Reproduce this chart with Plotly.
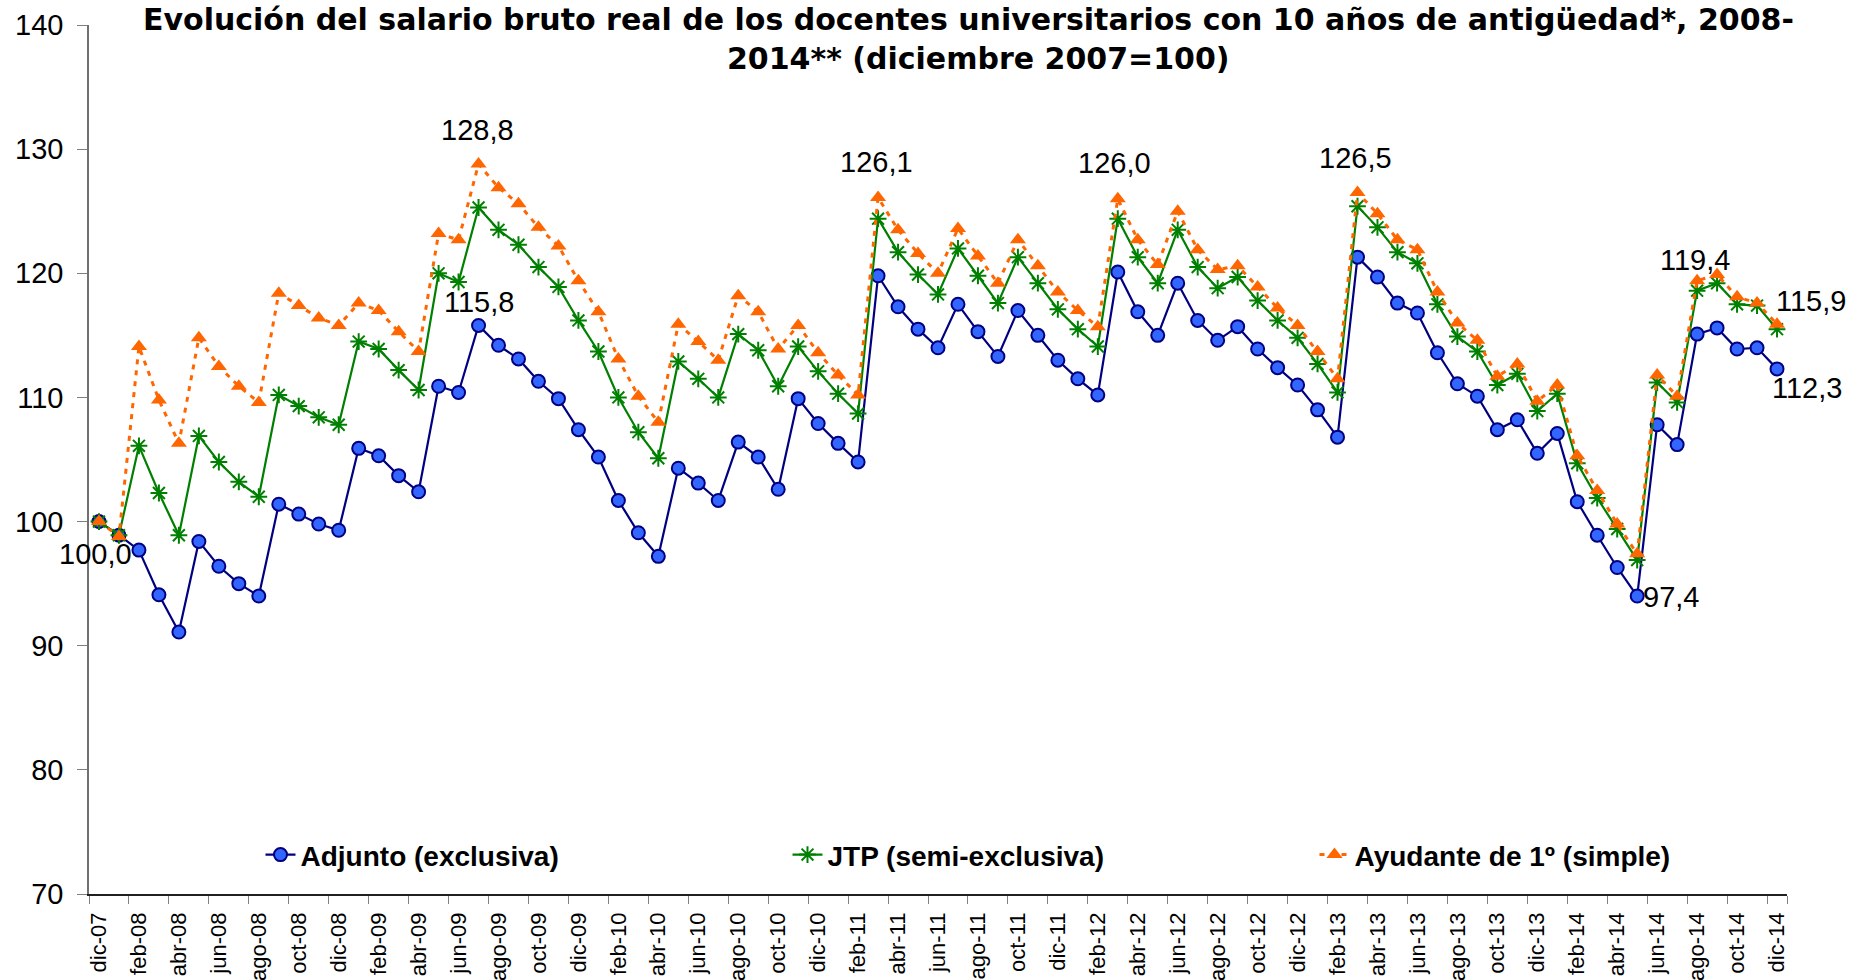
import plotly.graph_objects as go

# ---------------- data ----------------
month_abbr = ["ene", "feb", "mar", "abr", "may", "jun", "jul", "ago", "sep", "oct", "nov", "dic"]
years = list(range(8, 15))
categories = ["dic-07"] + [f"{m}-{y:02d}" for y in years for m in month_abbr]

adjunto = [100.0, 98.9, 97.7, 94.1, 91.1, 98.4, 96.4, 95.0, 94.0, 101.4,
           100.6, 99.8, 99.3, 105.9, 105.3, 103.7, 102.4, 110.9, 110.4, 115.8,
           114.2, 113.1, 111.3, 109.9, 107.4, 105.2, 101.7, 99.1, 97.2, 104.3,
           103.1, 101.7, 106.4, 105.2, 102.6, 109.9, 107.9, 106.3, 104.8, 119.8,
           117.3, 115.5, 114.0, 117.5, 115.3, 113.3, 117.0, 115.0, 113.0, 111.5,
           110.2, 120.1, 116.9, 115.0, 119.2, 116.2, 114.6, 115.7, 113.9, 112.4,
           111.0, 109.0, 106.8, 121.3, 119.7, 117.6, 116.8, 113.6, 111.1, 110.1,
           107.4, 108.2, 105.5, 107.1, 101.6, 98.9, 96.3, 94.0, 107.8, 106.2,
           115.1, 115.6, 113.9, 114.0, 112.3]

jtp = [100.0, 98.9, 106.1, 102.3, 98.9, 106.9, 104.8, 103.2, 102.0, 110.2,
       109.3, 108.4, 107.8, 114.5, 113.9, 112.2, 110.6, 120.0, 119.3, 125.3,
       123.5, 122.3, 120.5, 118.9, 116.2, 113.7, 110.0, 107.2, 105.1, 112.9,
       111.5, 110.0, 115.1, 113.8, 110.9, 114.1, 112.1, 110.3, 108.7, 124.4,
       121.7, 119.9, 118.3, 122.0, 119.8, 117.6, 121.3, 119.2, 117.1, 115.5,
       114.1, 124.4, 121.3, 119.2, 123.5, 120.5, 118.8, 119.7, 117.8, 116.2,
       114.8, 112.7, 110.4, 125.4, 123.7, 121.7, 120.8, 117.5, 114.9, 113.7,
       111.0, 111.9, 108.9, 110.3, 104.7, 101.9, 99.4, 96.9, 111.2, 109.6,
       118.6, 119.2, 117.5, 117.4, 115.5]

ayudante = [100.0, 98.8, 114.1, 109.8, 106.3, 114.8, 112.5, 110.9, 109.6, 118.4,
            117.4, 116.4, 115.8, 117.6, 117.0, 115.3, 113.7, 123.2, 122.7, 128.8,
            126.9, 125.6, 123.7, 122.2, 119.4, 116.9, 113.1, 110.1, 108.0, 115.9,
            114.5, 113.0, 118.2, 116.9, 113.9, 115.8, 113.6, 111.8, 110.2, 126.1,
            123.5, 121.6, 120.0, 123.6, 121.4, 119.2, 122.7, 120.6, 118.5, 117.0,
            115.7, 126.0, 122.7, 120.7, 125.0, 121.9, 120.3, 120.6, 118.9, 117.2,
            115.8, 113.7, 111.5, 126.5, 124.8, 122.7, 121.9, 118.5, 116.0, 114.6,
            111.7, 112.7, 109.7, 111.0, 105.3, 102.5, 99.8, 97.4, 111.8, 110.1,
            119.4, 119.9, 118.1, 117.6, 115.9]

series_names = ["Adjunto (exclusiva)", "JTP (semi-exclusiva)", "Ayudante de 1º (simple)"]
y_ticks = [70, 80, 90, 100, 110, 120, 130, 140]
title_line1 = "Evolución del salario bruto real de los docentes universitarios con 10 años de antigüedad*, 2008-"
title_line2 = "2014** (diciembre 2007=100)"


def fmt(v):
    return f"{v:.1f}".replace(".", ",")


# ---------------- figure ----------------
fig = go.Figure()

fig.add_trace(go.Scatter(
    x=categories, y=adjunto, name=series_names[0], mode="lines+markers",
    line=dict(color="#000080", width=2.2),
    marker=dict(symbol="circle", size=13, color="#3366FF",
                line=dict(color="#000080", width=2)),
))
fig.add_trace(go.Scatter(
    x=categories, y=jtp, name=series_names[1], mode="lines+markers",
    line=dict(color="#008000", width=2.2),
    marker=dict(symbol="asterisk-open", size=14, color="#008000",
                line=dict(color="#008000", width=2)),
))
fig.add_trace(go.Scatter(
    x=categories, y=ayudante, name=series_names[2], mode="lines+markers",
    line=dict(color="#FF6600", width=3, dash="5px,6px"),
    marker=dict(symbol="triangle-up", size=14, color="#FF6600",
                line=dict(color="#FF6600", width=0)),
))

lab_font = dict(family="Liberation Sans, Arial, sans-serif", size=29, color="black")

# data labels: (series, index, text-source, xanchor, xshift, yshift)
labels = [
    (adjunto, 0, adjunto[0], "center", -3, -32),
    (ayudante, 19, ayudante[19], "center", -1, 34),
    (adjunto, 19, adjunto[19], "center", 0, 23),
    (ayudante, 39, ayudante[39], "center", -2, 36),
    (ayudante, 51, ayudante[51], "center", -3, 36),
    (ayudante, 63, ayudante[63], "center", -2, 35),
    (ayudante, 80, ayudante[80], "center", -2, 21),
    (ayudante, 84, ayudante[84], "left", -3, 23),
    (adjunto, 84, adjunto[84], "left", -7, -19),
    (adjunto, 77, ayudante[77], "left", 4, -1),
]
for ser, i, val, xa, xs, ys in labels:
    fig.add_annotation(x=categories[i], y=ser[i], xref="x", yref="y",
                       text=fmt(val), showarrow=False, xanchor=xa, yanchor="middle",
                       xshift=xs, yshift=ys, font=lab_font)

title_font = dict(family="DejaVu Sans, Verdana, sans-serif", size=30, color="black")
fig.add_annotation(text=f"<b>{title_line1}</b>", xref="paper", yref="paper",
                   x=0.518, y=1.006, xanchor="center", yanchor="middle",
                   showarrow=False, font=title_font)
fig.add_annotation(text=f"<b>{title_line2}</b>", xref="paper", yref="paper",
                   x=0.524, y=0.961, xanchor="center", yanchor="middle",
                   showarrow=False, font=title_font)

fig.update_layout(
    width=1856, height=980,
    margin=dict(l=89, r=69, t=25, b=86, autoexpand=False),
    paper_bgcolor="white", plot_bgcolor="white",
    showlegend=True,
    legend=dict(orientation="h", x=0.101, y=0.045, xanchor="left", yanchor="middle",
                font=dict(family="Liberation Sans, Arial, sans-serif", size=28, color="black",
                          weight="bold"),
                entrywidth=482, entrywidthmode="pixels",
                bgcolor="rgba(0,0,0,0)", traceorder="normal"),
    xaxis=dict(type="category", range=[-0.5, len(categories) - 0.5], automargin=False,
               tickmode="array", tickvals=categories[::2], ticktext=categories[::2],
               tickson="boundaries", ticks="outside", ticklen=8, tickcolor="#808080",
               ticklabelstandoff=8,
               tickangle=-90, showline=True, linecolor="#202020", linewidth=1.5,
               showgrid=False, zeroline=False,
               tickfont=dict(family="Liberation Sans, Arial, sans-serif", size=22, color="black")),
    yaxis=dict(range=[70, 140], tickmode="array", tickvals=y_ticks, automargin=False,
               ticks="outside", ticklen=10, tickcolor="#808080", ticklabelstandoff=8,
               showline=True, linecolor="#707070", linewidth=1.5,
               showgrid=False, zeroline=False,
               tickfont=dict(family="Liberation Sans, Arial, sans-serif", size=29, color="black")),
)

fig.write_html("out.html", config={"displayModeBar": False},
               post_script="document.body.style.margin='0';document.body.style.overflow='hidden';")
